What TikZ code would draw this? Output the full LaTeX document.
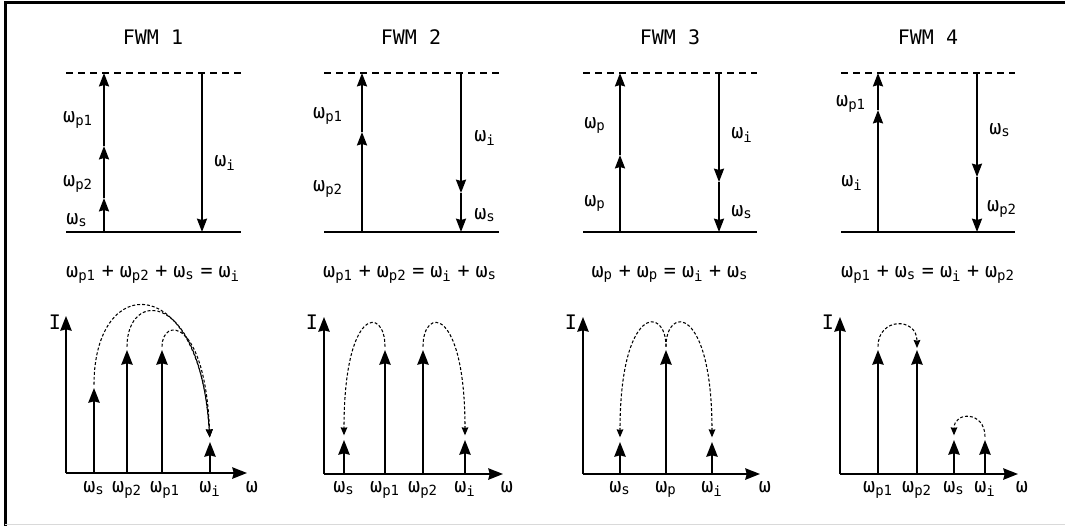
\documentclass[tikz,border=0pt]{standalone}
\usepackage{fontspec}
\setmonofont{DejaVu Sans Mono}
\usetikzlibrary{arrows.meta}
\newcommand{\wl}[1]{ω\textsubscript{#1}}
\newcommand{\opsp}[1]{\hspace{0.3em}#1\hspace{0.3em}}
\tikzset{
    txt/.style={font=\ttfamily\fontsize{15}{18}\selectfont, inner sep=0pt, anchor=base},
    title/.style={txt},
    lab/.style={txt},
    eqn/.style={txt},
    level/.style={line width=1.5pt},
    virt/.style={line width=1.5pt, dash pattern=on 5.5pt off 3.5pt},
    pump/.style={line width=1.5pt, -{Stealth[length=10pt, width=7.5pt, inset=1pt]}},
    axis/.style={line width=1.5pt, -{Stealth[length=11pt, width=8.5pt, inset=1pt]}},
    spec/.style={line width=1.5pt, -{Stealth[length=11pt, width=8.5pt, inset=1pt]}},
    conv/.style={line width=0.8pt, dash pattern=on 2.2pt off 1.5pt,
        -{Stealth[length=6pt, width=5pt, inset=0.5pt]}, shorten <=2.5pt, shorten >=3.5pt}
}
\begin{document}
\begin{tikzpicture}[x=0.75pt, y=-0.75pt]
    \useasboundingbox (0,0) rectangle (1065,526);

    % --- FRAME ---
    \coordinate (fbl) at (5,526);
    \coordinate (ftl) at (5,2.5);
    \coordinate (ftr) at (1065,2.5);
    \draw[line width=2.25pt] (fbl) -- (ftl) -- (ftr);
    \coordinate (fbl2) at (5,524.5);
    \coordinate (fbr2) at (1065,524.5);
    \draw[black!15, line width=0.75pt] (fbl2) -- (fbr2);

    % ================= FWM 1 =================
    \begin{scope}[shift={(66,0)}]
    \node[title] (t1) at (87,44) {FWM 1};
    % energy levels
    \coordinate (vl1) at (0,73);   \coordinate (vr1) at (175,73);
    \coordinate (gl1) at (0,232);  \coordinate (gr1) at (175,232);
    \draw[virt] (vl1) -- (vr1);
    \draw[level] (gl1) -- (gr1);
    \coordinate (ua1) at (38,232); \coordinate (ub1) at (38,198);
    \coordinate (uc1) at (38,146); \coordinate (ud1) at (38,73);
    \draw[pump] (ua1) -- (ub1);
    \draw[pump] (ub1) -- (uc1);
    \draw[pump] (uc1) -- (ud1);
    \coordinate (da1) at (136,73); \coordinate (db1) at (136,232);
    \draw[pump] (da1) -- (db1);
    \node[lab] (lp1a) at (12,122) {\wl{p1}};
    \node[lab] (lp2a) at (12,186) {\wl{p2}};
    \node[lab] (lsa)  at (11,224) {\wl{s}};
    \node[lab] (lia)  at (159,166) {\wl{i}};
    \node[eqn] (eq1) at (87,277) {\wl{p1}\opsp{+}\wl{p2}\opsp{+}\wl{s}\opsp{=}\wl{i}};
    % spectrum
    \coordinate (o1) at (0,473); \coordinate (yt1) at (0,316); \coordinate (xt1) at (181,473);
    \draw[axis] (o1) -- (yt1);
    \draw[axis] (o1) -- (xt1);
    \node[lab] (I1) at (-11,329) {I};
    \node[lab] (w1) at (186,492) {ω};
    \coordinate (s1b) at (28,473);  \coordinate (s1t) at (28,388);
    \coordinate (q1b) at (61,473);  \coordinate (q1t) at (61,350);
    \coordinate (p1b) at (96,473);  \coordinate (p1t) at (96,350);
    \coordinate (i1b) at (144,473); \coordinate (i1t) at (144,442);
    \draw[spec] (s1b) -- (s1t);
    \draw[spec] (q1b) -- (q1t);
    \draw[spec] (p1b) -- (p1t);
    \draw[spec] (i1b) -- (i1t);
    \node[lab] (ls1) at (28,492) {\wl{s}};
    \node[lab] (lq1) at (61,492) {\wl{p2}};
    \node[lab] (lr1) at (99,492) {\wl{p1}};
    \node[lab] (li1) at (144,492) {\wl{i}};
    \draw[conv] (s1t) .. controls +(0,-117) and +(-10,-171) .. (i1t);
    \draw[conv] (q1t) .. controls +(0,-61) and +(-10,-153) .. (i1t);
    \draw[conv] (p1t) .. controls +(0,-33) and +(-5,-125) .. (i1t);
    \end{scope}

    % ================= FWM 2 =================
    \begin{scope}[shift={(324,0)}]
    \node[title] (t2) at (87,44) {FWM 2};
    \coordinate (vl2) at (0,73);   \coordinate (vr2) at (175,73);
    \coordinate (gl2) at (0,232);  \coordinate (gr2) at (175,232);
    \draw[virt] (vl2) -- (vr2);
    \draw[level] (gl2) -- (gr2);
    \coordinate (ua2) at (38,232); \coordinate (ub2) at (38,132); \coordinate (uc2) at (38,73);
    \draw[pump] (ua2) -- (ub2);
    \draw[pump] (ub2) -- (uc2);
    \coordinate (da2) at (137,73); \coordinate (db2) at (137,193); \coordinate (dc2) at (137,232);
    \draw[pump] (da2) -- (db2);
    \draw[pump] (db2) -- (dc2);
    \node[lab] (lp1b) at (4,118) {\wl{p1}};
    \node[lab] (lp2b) at (4,191) {\wl{p2}};
    \node[lab] (lib)  at (161,141) {\wl{i}};
    \node[lab] (lsb)  at (161,219) {\wl{s}};
    \node[eqn] (eq2) at (86,277) {\wl{p1}\opsp{+}\wl{p2}\opsp{=}\wl{i}\opsp{+}\wl{s}};
    % spectrum
    \coordinate (o2) at (0,474); \coordinate (yt2) at (0,317); \coordinate (xt2) at (179,474);
    \draw[axis] (o2) -- (yt2);
    \draw[axis] (o2) -- (xt2);
    \node[lab] (I2) at (-12,329) {I};
    \node[lab] (w2) at (183,492) {ω};
    \coordinate (s2b) at (20,474);  \coordinate (s2t) at (20,440);
    \coordinate (p2b) at (61,474);  \coordinate (p2t) at (61,350);
    \coordinate (q2b) at (99,474);  \coordinate (q2t) at (99,350);
    \coordinate (i2b) at (141,474); \coordinate (i2t) at (141,440);
    \draw[spec] (s2b) -- (s2t);
    \draw[spec] (p2b) -- (p2t);
    \draw[spec] (q2b) -- (q2t);
    \draw[spec] (i2b) -- (i2t);
    \node[lab] (ls2) at (20,492) {\wl{s}};
    \node[lab] (lr2) at (61,492) {\wl{p1}};
    \node[lab] (lq2) at (99,492) {\wl{p2}};
    \node[lab] (li2) at (141,492) {\wl{i}};
    \draw[conv] (p2t) .. controls +(0,-44) and +(0,-134) .. (s2t);
    \draw[conv] (q2t) .. controls +(0,-44) and +(0,-134) .. (i2t);
    \end{scope}

    % ================= FWM 3 =================
    \begin{scope}[shift={(583,0)}]
    \node[title] (t3) at (87,44) {FWM 3};
    \coordinate (vl3) at (0,73);   \coordinate (vr3) at (174,73);
    \coordinate (gl3) at (0,232);  \coordinate (gr3) at (174,232);
    \draw[virt] (vl3) -- (vr3);
    \draw[level] (gl3) -- (gr3);
    \coordinate (ua3) at (37,232); \coordinate (ub3) at (37,155); \coordinate (uc3) at (37,73);
    \draw[pump] (ua3) -- (ub3);
    \draw[pump] (ub3) -- (uc3);
    \coordinate (da3) at (136,73); \coordinate (db3) at (136,182); \coordinate (dc3) at (136,232);
    \draw[pump] (da3) -- (db3);
    \draw[pump] (db3) -- (dc3);
    \node[lab] (lpc) at (12,128) {\wl{p}};
    \node[lab] (lqc) at (12,206) {\wl{p}};
    \node[lab] (lic) at (159,138) {\wl{i}};
    \node[lab] (lsc) at (159,216) {\wl{s}};
    \node[eqn] (eq3) at (87,277) {\wl{p}\opsp{+}\wl{p}\opsp{=}\wl{i}\opsp{+}\wl{s}};
    % spectrum
    \coordinate (o3) at (0,474); \coordinate (yt3) at (0,317); \coordinate (xt3) at (177,474);
    \draw[axis] (o3) -- (yt3);
    \draw[axis] (o3) -- (xt3);
    \node[lab] (I3) at (-12,329) {I};
    \node[lab] (w3) at (182,492) {ω};
    \coordinate (s3b) at (37,474);  \coordinate (s3t) at (37,442);
    \coordinate (p3b) at (83,474);  \coordinate (p3t) at (83,350);
    \coordinate (i3b) at (129,474); \coordinate (i3t) at (129,442);
    \draw[spec] (s3b) -- (s3t);
    \draw[spec] (p3b) -- (p3t);
    \draw[spec] (i3b) -- (i3t);
    \node[lab] (ls3) at (37,492) {\wl{s}};
    \node[lab] (lp3) at (83,492) {\wl{p}};
    \node[lab] (li3) at (129,492) {\wl{i}};
    \draw[conv] (p3t) .. controls +(0,-45) and +(0,-137) .. (s3t);
    \draw[conv] (p3t) .. controls +(0,-45) and +(0,-137) .. (i3t);
    \end{scope}

    % ================= FWM 4 =================
    \begin{scope}[shift={(841,0)}]
    \node[title] (t4) at (87,44) {FWM 4};
    \coordinate (vl4) at (0,73);   \coordinate (vr4) at (174,73);
    \coordinate (gl4) at (0,232);  \coordinate (gr4) at (174,232);
    \draw[virt] (vl4) -- (vr4);
    \draw[level] (gl4) -- (gr4);
    \coordinate (ua4) at (37,232); \coordinate (ub4) at (37,110); \coordinate (uc4) at (37,73);
    \draw[pump] (ua4) -- (ub4);
    \draw[pump] (ub4) -- (uc4);
    \coordinate (da4) at (136,73); \coordinate (db4) at (136,177); \coordinate (dc4) at (136,232);
    \draw[pump] (da4) -- (db4);
    \draw[pump] (db4) -- (dc4);
    \node[lab] (lpd) at (10,106) {\wl{p1}};
    \node[lab] (lid) at (11,186) {\wl{i}};
    \node[lab] (lsd) at (159,134) {\wl{s}};
    \node[lab] (lqd) at (161,211) {\wl{p2}};
    \node[eqn] (eq4) at (87,277) {\wl{p1}\opsp{+}\wl{s}\opsp{=}\wl{i}\opsp{+}\wl{p2}};
    % spectrum
    \coordinate (o4) at (-1,474); \coordinate (yt4) at (-1,317); \coordinate (xt4) at (177,474);
    \draw[axis] (o4) -- (yt4);
    \draw[axis] (o4) -- (xt4);
    \node[lab] (I4) at (-13,329) {I};
    \node[lab] (w4) at (181,492) {ω};
    \coordinate (p4b) at (37,474);  \coordinate (p4t) at (37,350);
    \coordinate (q4b) at (76,474);  \coordinate (q4t) at (76,350);
    \coordinate (s4b) at (113,474); \coordinate (s4t) at (113,440);
    \coordinate (i4b) at (144,474); \coordinate (i4t) at (144,440);
    \draw[spec] (p4b) -- (p4t);
    \draw[spec] (q4b) -- (q4t);
    \draw[spec] (s4b) -- (s4t);
    \draw[spec] (i4b) -- (i4t);
    \node[lab] (lp4) at (37,492) {\wl{p1}};
    \node[lab] (lq4) at (76,492) {\wl{p2}};
    \node[lab] (ls4) at (113,492) {\wl{s}};
    \node[lab] (li4) at (144,492) {\wl{i}};
    \draw[conv, shorten >=1.5pt] (p4t) .. controls +(0,-33) and +(0,-33) .. (q4t);
    \draw[conv] (i4t) .. controls +(0,-29) and +(0,-29) .. (s4t);
    \end{scope}

\end{tikzpicture}
\end{document}
